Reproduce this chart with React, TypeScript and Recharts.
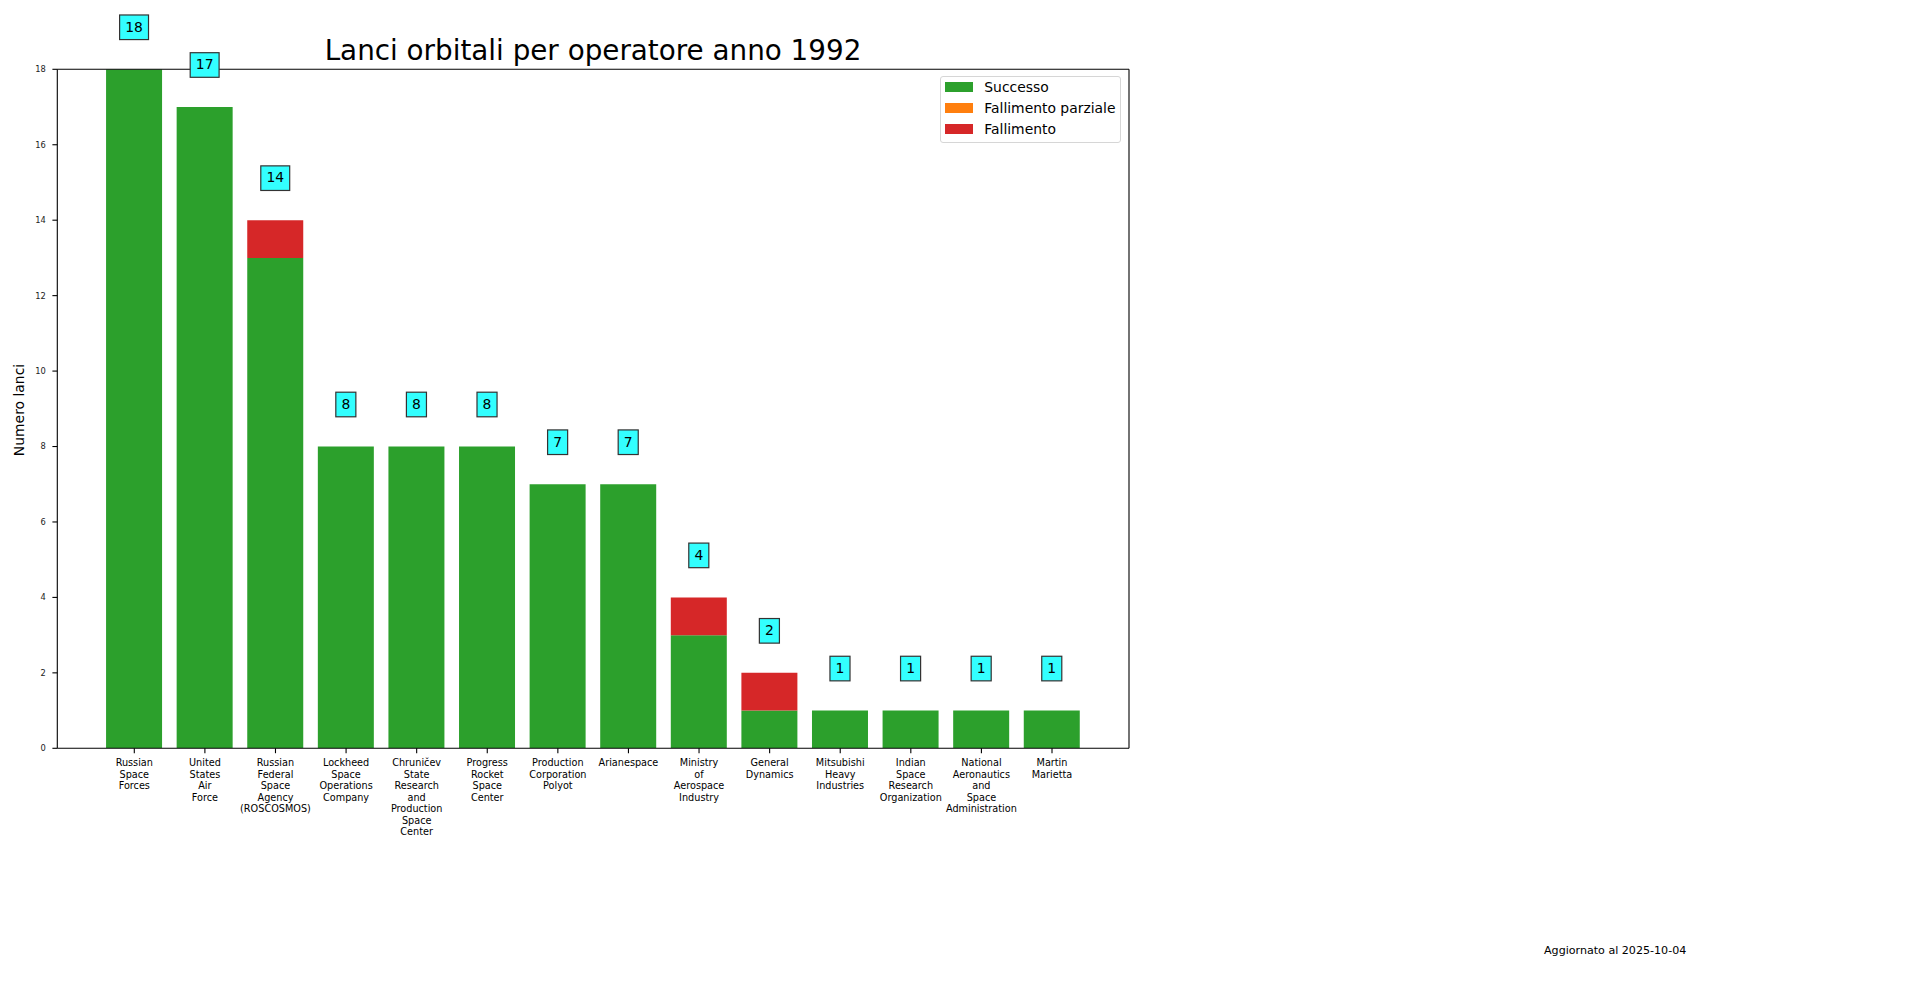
import React from 'react';
import { ComposedChart, Bar, XAxis, YAxis, LabelList, Legend } from 'recharts';

const categories = [
  'Russian Space Forces',
  'United States Air Force',
  'Russian Federal Space Agency (ROSCOSMOS)',
  'Lockheed Space Operations Company',
  'Chruničev State Research and Production Space Center',
  'Progress Rocket Space Center',
  'Production Corporation Polyot',
  'Arianespace',
  'Ministry of Aerospace Industry',
  'General Dynamics',
  'Mitsubishi Heavy Industries',
  'Indian Space Research Organization',
  'National Aeronautics and Space Administration',
  'Martin Marietta',
];
const successo = [18, 17, 13, 8, 8, 8, 7, 7, 3, 1, 1, 1, 1, 1];
const fallimentoParziale = [0, 0, 0, 0, 0, 0, 0, 0, 0, 0, 0, 0, 0, 0];
const fallimento = [0, 0, 1, 0, 0, 0, 0, 0, 1, 1, 0, 0, 0, 0];
const yTicks = [0, 2, 4, 6, 8, 10, 12, 14, 16, 18];
const seriesNames = ['Successo', 'Fallimento parziale', 'Fallimento'];
const seriesColors = ['#2ca02c', '#ff7f0e', '#d62728'];
const LABEL_OFFSET = 1;

const data = categories.map((name, i) => ({
  name,
  successo: successo[i],
  parziale: fallimentoParziale[i],
  fallimento: fallimento[i],
  total: successo[i] + fallimentoParziale[i] + fallimento[i],
}));

const FONT = 'DejaVu Sans';

const XTick = (props: any) => {
  const { x, y, payload } = props;
  const lines = String(payload.value).split(' ');
  return (
    <text x={x} y={y} textAnchor="middle" fontFamily={FONT} fontSize={9.7} fill="#000">
      {lines.map((l, i) => (
        <tspan key={i} x={x} dy={i === 0 ? 11.2 : 11.5}>
          {l}
        </tspan>
      ))}
    </text>
  );
};

// Label drawn from the Successo segment: pixels-per-unit come from the bar's own scale
const BoxLabel = (props: any) => {
  const { x, y, width, height, value, index } = props;
  const row = data[index];
  if (!row) return null;
  const ppu = Number(height) / Number(value);
  const stackTop = Number(y) - (row.parziale + row.fallimento) * ppu;
  const base = stackTop - LABEL_OFFSET * ppu;
  const cx = Number(x) + Number(width) / 2;
  const s = String(row.total);
  const w = s.length * 8.85 + 11.2;
  return (
    <g>
      <rect x={cx - w / 2} y={base - 16.6} width={w} height={24.6} fill="#33ffff" stroke="#333" strokeWidth={1.2} />
      <text x={cx} y={base} textAnchor="middle" fontFamily={FONT} fontSize={13.9} fill="#000">
        {s}
      </text>
    </g>
  );
};

const LegendBox = () => (
  <div
    style={{
      position: 'relative',
      width: 181,
      height: 66.7,
      boxSizing: 'border-box',
      border: '1px solid #d6d6d6',
      borderRadius: 3,
      background: 'rgba(255,255,255,0.8)',
      fontFamily: FONT,
      fontSize: 13.9,
      color: '#000',
    }}
  >
    {seriesNames.map((n, i) => (
      <React.Fragment key={n}>
        <div
          style={{
            position: 'absolute',
            left: 3.7,
            top: 4.7 + 21 * i,
            width: 28,
            height: 10,
            background: seriesColors[i],
          }}
        />
        <div
          style={{
            position: 'absolute',
            left: 43,
            top: 2.2 + 21 * i,
            lineHeight: '16px',
            whiteSpace: 'nowrap',
          }}
        >
          {n}
        </div>
      </React.Fragment>
    ))}
  </div>
);

export default function App() {
  return (
    <div style={{ position: 'relative', width: 1900, height: 980, fontFamily: FONT }}>
      <ComposedChart
        width={1900}
        height={980}
        data={data}
        margin={{ top: 60.3, right: 778, bottom: 39.7, left: 0 }}
        barCategoryGap="10%"
      >
        <XAxis
          dataKey="name"
          interval={0}
          tick={<XTick />}
          tickSize={4.9}
          tickMargin={2}
          height={200}
          padding={{ left: 41.7, right: 41.7 }}
          axisLine={{ stroke: '#000', strokeWidth: 1.1 }}
          tickLine={{ stroke: '#000', strokeWidth: 1.1 }}
        />
        <XAxis
          xAxisId="top"
          orientation="top"
          dataKey="name"
          height={1}
          interval={0}
          tick={false}
          tickLine={false}
          padding={{ left: 41.7, right: 41.7 }}
          axisLine={{ stroke: '#000', strokeWidth: 1.1 }}
        />
        <YAxis
          domain={[0, 18]}
          ticks={yTicks}
          allowDataOverflow
          width={49.3}
          tickSize={4.9}
          tickMargin={6.6}
          interval={0}
          tick={{ fontSize: 8.3, fill: '#222', fontFamily: FONT }}
          axisLine={{ stroke: '#000', strokeWidth: 1.1 }}
          tickLine={{ stroke: '#000', strokeWidth: 1.1 }}
        />
        <YAxis
          yAxisId="right"
          orientation="right"
          width={1}
          domain={[0, 18]}
          ticks={yTicks}
          interval={0}
          tick={false}
          tickLine={false}
          axisLine={{ stroke: '#000', strokeWidth: 1.1 }}
        />
        <Bar dataKey="successo" name={seriesNames[0]} stackId="a" fill={seriesColors[0]} isAnimationActive={false}>
          <LabelList dataKey="successo" content={<BoxLabel />} />
        </Bar>
        <Bar dataKey="parziale" name={seriesNames[1]} stackId="a" fill={seriesColors[1]} isAnimationActive={false} />
        <Bar dataKey="fallimento" name={seriesNames[2]} stackId="a" fill={seriesColors[2]} isAnimationActive={false} />
        <Legend
          layout="vertical"
          align="center"
          verticalAlign="middle"
          wrapperStyle={{ left: 932.3, top: 68.3, width: 181, height: 66.7 }}
          content={<LegendBox />}
        />
      </ComposedChart>
      <div
        style={{
          position: 'absolute',
          left: 585,
          top: 28.5,
          transform: 'translateX(-50%)',
          fontSize: 27.8,
          lineHeight: '27.8px',
          whiteSpace: 'nowrap',
          color: '#000',
        }}
      >
        Lanci orbitali per operatore anno 1992
      </div>
      <div
        style={{
          position: 'absolute',
          left: 12,
          top: 402,
          transform: 'translate(-50%, -50%) rotate(-90deg)',
          fontSize: 13.9,
          lineHeight: '13.9px',
          whiteSpace: 'nowrap',
          color: '#000',
        }}
      >
        Numero lanci
      </div>
      <div
        style={{
          position: 'absolute',
          left: 1536,
          top: 936.5,
          fontSize: 11.1,
          lineHeight: '11.1px',
          whiteSpace: 'nowrap',
          color: '#000',
        }}
      >
        Aggiornato al 2025-10-04
      </div>
    </div>
  );
}
